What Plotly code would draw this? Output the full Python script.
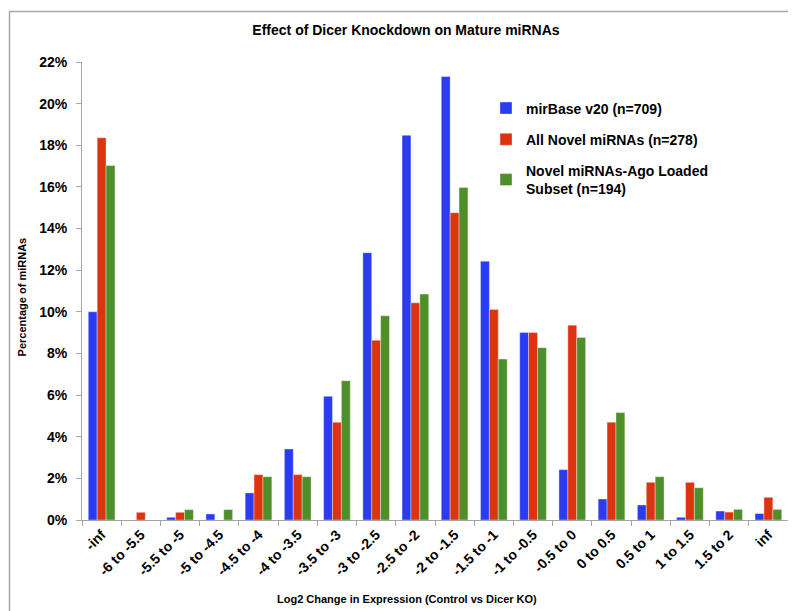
import plotly.graph_objects as go

categories = ["-inf", "-6 to -5.5", "-5.5 to -5", "-5 to -4.5", "-4.5 to -4", "-4 to -3.5",
              "-3.5 to -3", "-3 to -2.5", "-2.5 to -2", "-2 to -1.5", "-1.5 to -1",
              "-1 to -0.5", "-0.5 to 0", "0 to 0.5", "0.5 to 1", "1 to 1.5", "1.5 to 2", "inf"]

mirbase = [10.0, 0.0, 0.13, 0.29, 1.30, 3.41, 5.94, 12.84, 18.48, 21.3, 12.43,
           9.01, 2.42, 1.01, 0.72, 0.13, 0.43, 0.31]
novel_all = [18.36, 0.37, 0.37, 0.0, 2.18, 2.18, 4.69, 8.64, 10.43, 14.76, 10.11,
             9.01, 9.36, 4.70, 1.81, 1.81, 0.38, 1.09]
novel_ago = [17.03, 0.0, 0.50, 0.50, 2.08, 2.08, 6.69, 9.81, 10.85, 15.97, 7.73,
             8.28, 8.77, 5.16, 2.08, 1.55, 0.51, 0.51]

series_names = ["mirBase v20 (n=709)", "All Novel miRNAs (n=278)",
                "Novel miRNAs-Ago Loaded<br>Subset (n=194)"]
y_ticks = [0, 2, 4, 6, 8, 10, 12, 14, 16, 18, 20, 22]
y_tick_labels = ["0%", "2%", "4%", "6%", "8%", "10%", "12%", "14%", "16%", "18%", "20%", "22%"]

colors = ["#2a3cf2", "#dc3410", "#4f8f2a"]

W, H = 796, 611
L, R, T, B = 74, 16, 53.5, 99.3
PW, PH = W - L - R, H - T - B

FONT = "Liberation Sans, Arial, Helvetica, sans-serif"

fig = go.Figure()
for i, (name, vals) in enumerate(zip(series_names, [mirbase, novel_all, novel_ago])):
    fig.add_trace(go.Bar(
        x=categories, y=vals, name=name, legendgroup=f"g{i}",
        marker=dict(color=colors[i], line=dict(color="rgba(255,255,255,0.6)", width=0.6)),
    ))

def px_x(px):
    return (px - L) / PW

def px_y(py):
    return (H - B - py) / PH

fig.update_layout(
    width=W, height=H,
    margin=dict(l=L, r=R, t=T, b=B),
    paper_bgcolor="white", plot_bgcolor="white",
    barmode="group", bargap=0.32, bargroupgap=0.0,
    font=dict(family=FONT, color="black"),
    title=dict(text="Effect of Dicer Knockdown on Mature miRNAs",
               font=dict(family=FONT, size=14, weight="bold", color="black"),
               x=0.5, xanchor="center", y=1 - 22 / H, yanchor="middle",
               xref="container", yref="container"),
    xaxis=dict(
        type="category", tickangle=-45,
        tickfont=dict(family=FONT, size=14, weight="bold", color="black"),
        showline=True, linecolor="#a6a6a6", linewidth=1,
        ticks="outside", ticklen=5, tickcolor="#a6a6a6", tickson="boundaries",
        showgrid=False, zeroline=False,
    ),
    yaxis=dict(
        range=[0, 22], tickmode="array", tickvals=y_ticks, ticktext=y_tick_labels,
        tickfont=dict(family=FONT, size=14, weight="bold", color="black"),
        showline=True, linecolor="#a6a6a6", linewidth=1,
        ticks="outside", ticklen=5, tickcolor="#a6a6a6", ticklabelstandoff=6,
        showgrid=False, zeroline=False,
    ),
    legend=dict(
        x=px_x(478), y=px_y(84), xanchor="left", yanchor="top",
        xref="paper", yref="paper",
        font=dict(family=FONT, size=14, weight="bold", color="black"),
        bgcolor="rgba(0,0,0,0)", traceorder="grouped", tracegroupgap=10,
        itemwidth=30,
    ),
    annotations=[
        dict(text="Percentage of miRNAs", textangle=-90, showarrow=False,
             xref="paper", yref="paper", x=px_x(14), y=px_y(289),
             xanchor="center", yanchor="middle",
             font=dict(family=FONT, size=11, weight="bold", color="black")),
        dict(text="Log2 Change in Expression (Control vs Dicer KO)", showarrow=False,
             xref="paper", yref="paper", x=px_x(399), y=px_y(591),
             xanchor="center", yanchor="middle",
             font=dict(family=FONT, size=11, weight="bold", color="black")),
    ],
    shapes=[
        dict(type="rect", xref="paper", yref="paper",
             x0=px_x(1.5), x1=px_x(792), y0=px_y(609), y1=px_y(3),
             line=dict(color="#a8a8a8", width=1.5), fillcolor="rgba(0,0,0,0)",
             layer="below"),
    ],
)

fig.write_html("out.html")
